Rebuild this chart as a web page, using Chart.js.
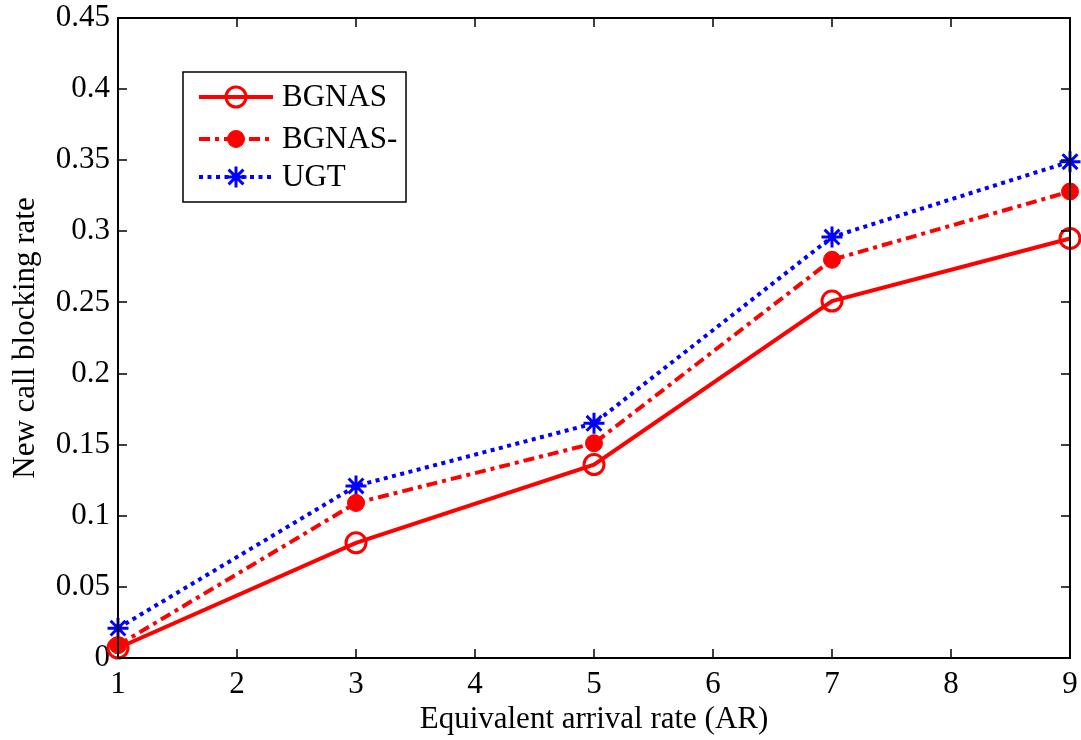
<!DOCTYPE html>
<html>
<head>
<meta charset="utf-8">
<script src="https://cdn.jsdelivr.net/npm/chart.js@4"></script>
<style>
    body { margin: 0; background: #fff; }
    canvas { display: block; }
</style>
</head>
<body>
<canvas id="bloqueoChart" width="1081" height="740"></canvas>
<script>
// Datos del gráfico
const tasasLlegada = [1, 3, 5, 7, 9];
const bgnasData = [0.007, 0.081, 0.136, 0.251, 0.295];
const bgnasMenosData = [0.009, 0.109, 0.151, 0.280, 0.328];
const ugtData = [0.021, 0.121, 0.165, 0.296, 0.349];
const xTicks = [1, 2, 3, 4, 5, 6, 7, 8, 9];
const yTicks = [0, 0.05, 0.1, 0.15, 0.2, 0.25, 0.3, 0.35, 0.4, 0.45];

const fuente = 'Liberation Serif, Times New Roman, serif';
const tamFuente = 31;

function puntos(valores) {
    return tasasLlegada.map((x, i) => ({ x: x, y: valores[i] }));
}

// Marco tipo MATLAB: caja, marcas hacia adentro y títulos de ejes
const marcoPlugin = {
    id: 'marco',
    afterDatasetsDraw(chart) {
        const ctx = chart.ctx;
        const area = chart.chartArea;
        const xs = chart.scales.x;
        const ys = chart.scales.y;
        const largo = 9;

        ctx.save();
        ctx.strokeStyle = '#000';
        ctx.lineWidth = 2;
        ctx.strokeRect(area.left, area.top, area.right - area.left, area.bottom - area.top);

        ctx.lineWidth = 1.5;
        ctx.beginPath();
        xTicks.forEach(v => {
            const px = Math.round(xs.getPixelForValue(v));
            ctx.moveTo(px, area.bottom);
            ctx.lineTo(px, area.bottom - largo);
            ctx.moveTo(px, area.top);
            ctx.lineTo(px, area.top + largo);
        });
        yTicks.forEach(v => {
            const py = Math.round(ys.getPixelForValue(v));
            ctx.moveTo(area.left, py);
            ctx.lineTo(area.left + largo, py);
            ctx.moveTo(area.right, py);
            ctx.lineTo(area.right - largo, py);
        });
        ctx.stroke();

        // Títulos de los ejes
        ctx.fillStyle = '#000';
        ctx.font = tamFuente + 'px ' + fuente;
        ctx.textAlign = 'center';
        ctx.textBaseline = 'alphabetic';
        ctx.fillText('Equivalent arrival rate (AR)', (area.left + area.right) / 2, 728);

        ctx.translate(34, (area.top + area.bottom) / 2);
        ctx.rotate(-Math.PI / 2);
        ctx.fillText('New call blocking rate', 0, 0);
        ctx.restore();
    }
};

// Leyenda dentro del área del gráfico
const leyendaPlugin = {
    id: 'leyenda',
    afterDraw(chart) {
        const ctx = chart.ctx;
        const caja = { x: 183, y: 72, w: 223, h: 130 };
        const filas = [97, 139, 177];
        const cx = 236;

        ctx.save();
        ctx.fillStyle = '#fff';
        ctx.fillRect(caja.x, caja.y, caja.w, caja.h);
        ctx.strokeStyle = '#000';
        ctx.lineWidth = 1.5;
        ctx.strokeRect(caja.x, caja.y, caja.w, caja.h);

        chart.data.datasets.forEach((ds, i) => {
            const y = filas[i];
            ctx.strokeStyle = ds.borderColor;
            ctx.lineWidth = ds.borderWidth;
            ctx.setLineDash(ds.borderDash || []);
            ctx.beginPath();
            ctx.moveTo(199, y);
            ctx.lineTo(273, y);
            ctx.stroke();
            ctx.setLineDash([]);

            // Marcador con el mismo estilo que la serie
            ctx.fillStyle = ds.pointBackgroundColor;
            ctx.strokeStyle = ds.pointBorderColor;
            ctx.lineWidth = ds.pointBorderWidth;
            Chart.helpers.drawPoint(ctx, {
                pointStyle: ds.pointStyle,
                radius: ds.pointRadius,
                borderWidth: ds.pointBorderWidth,
                rotation: 0
            }, cx, y);

            ctx.fillStyle = '#000';
            ctx.font = tamFuente + 'px ' + fuente;
            ctx.textAlign = 'left';
            ctx.textBaseline = 'middle';
            ctx.fillText(ds.label, 282, y + 1);
        });
        ctx.restore();
    }
};

// Sin relleno extra de Chart.js alrededor de los ejes
function sinRelleno(scale) {
    scale.paddingTop = 0;
    scale.paddingBottom = 0;
    scale.paddingLeft = 0;
    scale.paddingRight = 0;
}

const bloqueoChart = new Chart(document.getElementById('bloqueoChart'), {
    type: 'line',
    data: {
        datasets: [{
            label: 'BGNAS',
            data: puntos(bgnasData),
            borderColor: '#ff0000',
            borderWidth: 4,
            pointStyle: 'circle',
            pointRadius: 10,
            pointBorderWidth: 3,
            pointBorderColor: '#ff0000',
            pointBackgroundColor: 'rgba(0, 0, 0, 0)',
            clip: false
        }, {
            label: 'BGNAS-',
            data: puntos(bgnasMenosData),
            borderColor: '#ff0000',
            borderWidth: 4,
            borderDash: [11, 5, 4, 5],
            pointStyle: 'circle',
            pointRadius: 8.5,
            pointBorderWidth: 1,
            pointBorderColor: '#ff0000',
            pointBackgroundColor: '#ff0000',
            clip: false
        }, {
            label: 'UGT',
            data: puntos(ugtData),
            borderColor: '#0000ff',
            borderWidth: 4,
            borderDash: [4, 4.5],
            pointStyle: 'star',
            pointRadius: 10.5,
            pointBorderWidth: 3,
            pointBorderColor: '#0000ff',
            pointBackgroundColor: '#0000ff',
            clip: false
        }]
    },
    options: {
        responsive: false,
        animation: false,
        layout: {
            autoPadding: false,
            padding: { left: 0, top: 18, right: 11, bottom: 0 }
        },
        elements: {
            line: { tension: 0 }
        },
        plugins: {
            legend: { display: false },
            tooltip: { enabled: false }
        },
        scales: {
            x: {
                type: 'linear',
                min: 1,
                max: 9,
                afterBuildTicks: scale => {
                    scale.ticks = xTicks.map(v => ({ value: v }));
                },
                afterFit: scale => {
                    scale.height = 82;
                    sinRelleno(scale);
                },
                grid: { display: false, drawTicks: false },
                border: { display: false },
                ticks: {
                    color: '#000',
                    padding: 8,
                    maxRotation: 0,
                    font: { family: fuente, size: tamFuente }
                }
            },
            y: {
                min: 0,
                max: 0.45,
                afterBuildTicks: scale => {
                    scale.ticks = yTicks.map(v => ({ value: v }));
                },
                afterFit: scale => {
                    scale.width = 118;
                    sinRelleno(scale);
                },
                grid: { display: false, drawTicks: false },
                border: { display: false },
                ticks: {
                    color: '#000',
                    padding: 8,
                    font: { family: fuente, size: tamFuente },
                    callback: value => String(parseFloat(value.toFixed(2)))
                }
            }
        }
    },
    plugins: [marcoPlugin, leyendaPlugin]
});
</script>
</body>
</html>
